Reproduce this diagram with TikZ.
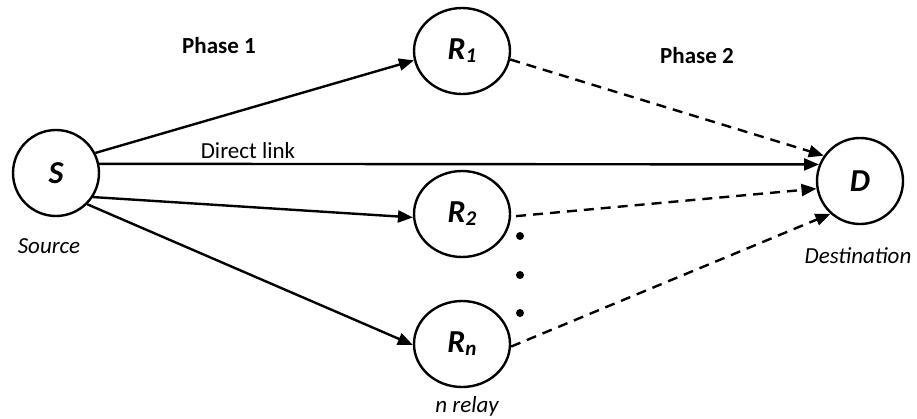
\documentclass[tikz,border=0pt]{standalone}
\usepackage{fontspec}
\setmainfont{Carlito}
\usetikzlibrary{shapes.geometric,arrows.meta}
\begin{document}
\begin{tikzpicture}[x=1pt,y=-1pt,
  every node/.style={font=\fontsize{23}{27}\selectfont},
  termnode/.style={circle,draw,line width=2.4pt,minimum size=86pt,inner sep=0pt,
    font=\fontsize{32}{33}\selectfont\bfseries\itshape},
  relaynode/.style={ellipse,draw,line width=2.4pt,minimum width=96pt,minimum height=86pt,inner sep=0pt,
    font=\fontsize{32}{33}\selectfont\bfseries\itshape},
  solidarrow/.style={line width=2.4pt,-{Triangle[length=15pt,width=12pt]}},
  dasharrow/.style={line width=2.4pt,dash pattern=on 10pt off 7pt,-{Triangle[length=15pt,width=12pt]}},
  dotmark/.style={circle,fill,inner sep=0pt,minimum size=8pt},
  plainlabel/.style={anchor=base,inner sep=0pt},
]
\useasboundingbox (0,0) rectangle (917,418);
\newcommand{\relsub}[2]{#1\raisebox{-3pt}{\fontsize{21}{21}\selectfont #2}}
\node[termnode] (S) at (56,173) {S};
\node[termnode] (D) at (860,181) {D};
\node[relaynode] (R1) at (462,51) {\relsub{R}{1}};
\node[relaynode] (R2) at (462,214) {\relsub{R}{2}};
\node[relaynode] (Rn) at (462,344) {\relsub{R}{n}};

\node[plainlabel,font=\fontsize{23}{27}\selectfont\bfseries] (ph1) at (219,53) {Phase 1};
\node[plainlabel,font=\fontsize{23}{27}\selectfont\bfseries] (ph2) at (697,63) {Phase 2};
\node[plainlabel] (dl) at (248,158) {Direct link};
\node[plainlabel,font=\fontsize{23}{27}\selectfont\itshape] (src) at (49,253) {Source};
\node[plainlabel,font=\fontsize{23}{27}\selectfont\itshape] (dst) at (858,263) {Destination};
\node[plainlabel,font=\fontsize{23}{27}\selectfont\itshape] (nr) at (467,412) {n relay};

\node[dotmark] (d1) at (520,236) {};
\node[dotmark] (d2) at (520,275) {};
\node[dotmark] (d3) at (520,313) {};

\draw[solidarrow] (S.27) -- (R1.191);
\draw[solidarrow] (S.12) -- (D.158);
\draw[solidarrow] (S.-33) -- (R2.184);
\draw[solidarrow] (S.-45) -- (Rn.181);
\draw[dasharrow] (R1.-10) -- (D.145);
\draw[dasharrow,shorten <=5pt] (R2.-3) -- (D.190);
\draw[dasharrow] (Rn.-3) -- (D.228);
\end{tikzpicture}
\end{document}
